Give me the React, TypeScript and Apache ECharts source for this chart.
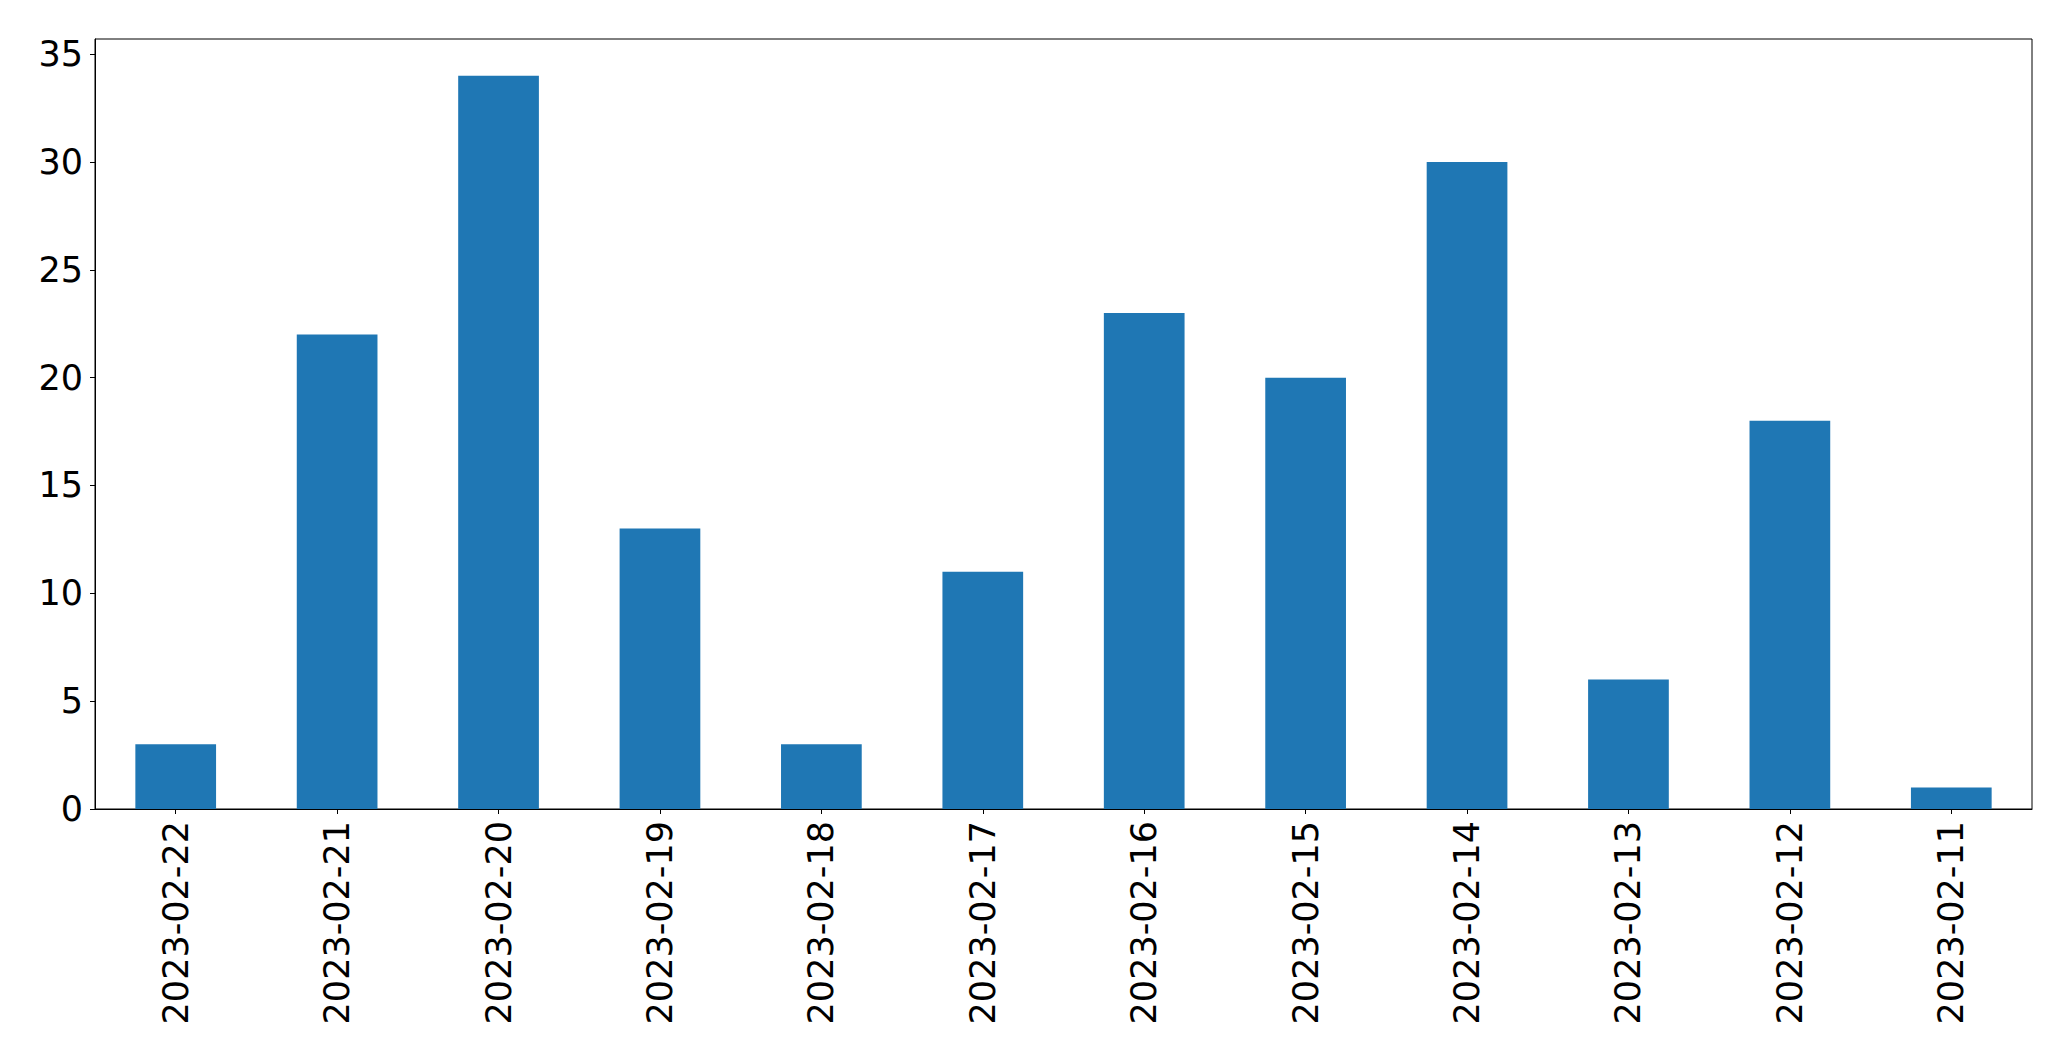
import React, { useEffect, useRef } from "react";
import * as echarts from "echarts";

const categories = [
  "2023-02-22", "2023-02-21", "2023-02-20", "2023-02-19", "2023-02-18", "2023-02-17",
  "2023-02-16", "2023-02-15", "2023-02-14", "2023-02-13", "2023-02-12", "2023-02-11",
];
const counts = [3, 22, 34, 13, 3, 11, 23, 20, 30, 6, 18, 1];
const yTicks = [0, 5, 10, 15, 20, 25, 30, 35];
const yMax = 35.7;

export default function App() {
  const ref = useRef<HTMLDivElement>(null);
  useEffect(() => {
    if (!ref.current) return;
    const chart = echarts.init(ref.current, null, { renderer: "svg" });
    const font = "DejaVu Sans";
    chart.setOption({
      animation: false,
      backgroundColor: "#ffffff",
      grid: {
        left: 95,
        top: 39,
        right: 39,
        bottom: 252,
        containLabel: false,
        show: true,
        borderColor: "#000000",
        borderWidth: 1,
        backgroundColor: "transparent",
      },
      xAxis: {
        type: "category",
        data: categories,
        boundaryGap: true,
        axisLine: { show: true, lineStyle: { color: "#000000", width: 1 } },
        axisTick: { show: true, alignWithLabel: true, length: 5, lineStyle: { color: "#000000" } },
        axisLabel: {
          rotate: 90,
          margin: 12,
          color: "#000000",
          fontFamily: font,
          fontSize: 35,
          interval: 0,
        },
        splitLine: { show: false },
      },
      yAxis: {
        type: "value",
        min: 0,
        max: yMax,
        interval: 5,
        axisLine: { show: true, lineStyle: { color: "#000000", width: 1 } },
        axisTick: { show: true, length: 5, lineStyle: { color: "#000000" }, customValues: yTicks },
        axisLabel: {
          margin: 12,
          color: "#000000",
          fontFamily: font,
          fontSize: 35,
          customValues: yTicks,
        },
        splitLine: { show: false },
      },
      series: [
        {
          type: "bar",
          data: counts,
          barWidth: "50%",
          itemStyle: { color: "#1f77b4" },
        },
      ],
    });
    return () => chart.dispose();
  }, []);
  return (
    <div
      ref={ref}
      style={{ position: "fixed", left: 0, top: 0, width: 2071, height: 1061, background: "#fff" }}
    />
  );
}
